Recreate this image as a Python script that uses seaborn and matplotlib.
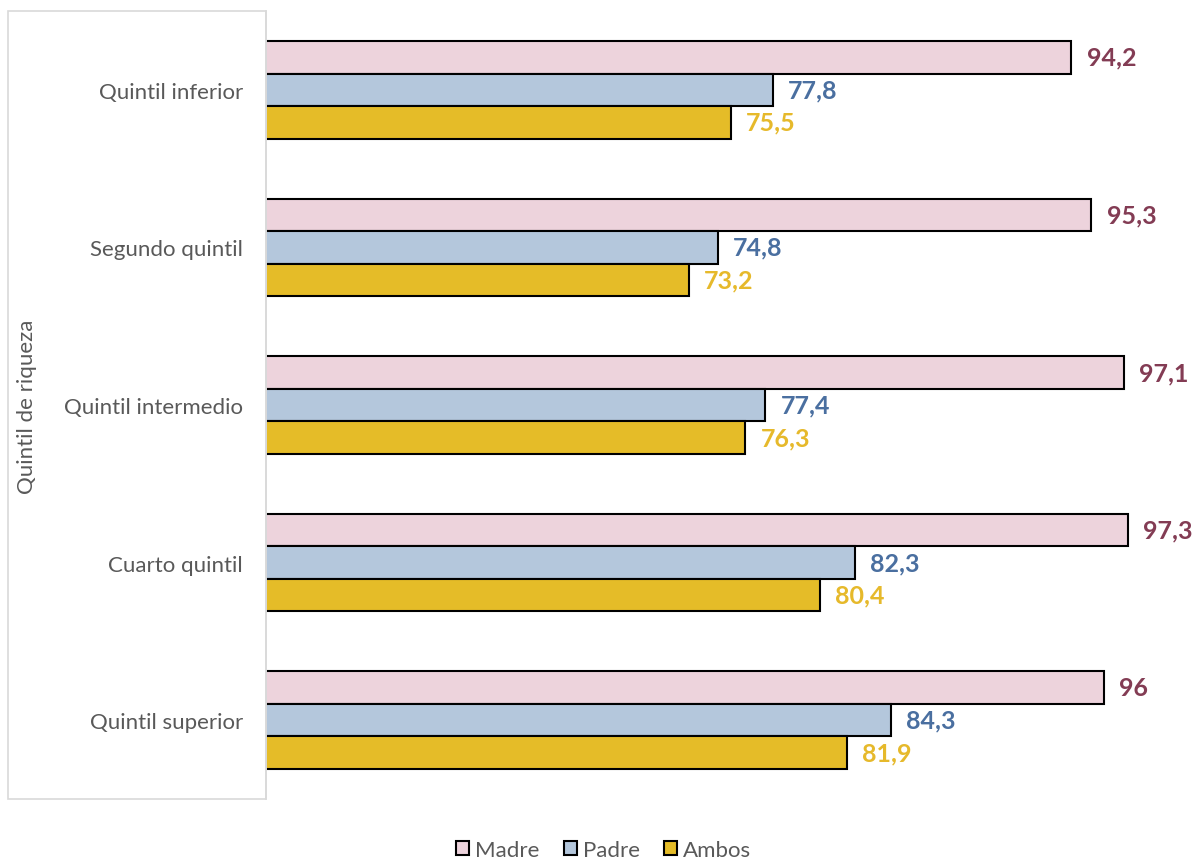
import pandas as pd
import matplotlib.pyplot as plt
import seaborn as sns
from matplotlib.patches import Rectangle

# Data
quintiles = ['Quintil inferior', 'Segundo quintil', 'Quintil intermedio', 'Cuarto quintil', 'Quintil superior']
madre = [94.2, 95.3, 97.1, 97.3, 96.0]
padre = [77.8, 74.8, 77.4, 82.3, 84.3]
ambos = [75.5, 73.2, 76.3, 80.4, 81.9]
series = ['Madre', 'Padre', 'Ambos']

bar_colors = ['#EDD3DC', '#B4C7DC', '#E5BC28']
label_colors = ['#833C54', '#4A6FA0', '#E6B92B']
gray = '#595959'

df = pd.DataFrame({'quintil': quintiles * 3,
                   'valor': madre + padre + ambos,
                   'grupo': [s for s in series for _ in quintiles]})

sns.set_style('white')
plt.rcParams['font.family'] = ['Lato', 'DejaVu Sans']

fig = plt.figure(figsize=(11.95, 8.62), dpi=100)
ax = fig.add_axes([266 / 1195, 62 / 862, 911 / 1195, 788 / 862])

sns.barplot(data=df, y='quintil', x='valor', hue='grupo', hue_order=series,
            order=quintiles, palette=bar_colors, orient='h', width=0.62,
            edgecolor='black', linewidth=1.5, saturation=1, ax=ax, legend=False)

ax.set_xlim(50, 100)
ax.set_ylim(4.5, -0.5)
ax.set_xlabel('')
ax.set_ylabel('')
ax.set_xticks([])
ax.tick_params(axis='y', length=0, pad=16.5, labelsize=16, labelcolor=gray)
for side in ['top', 'right', 'bottom']:
    ax.spines[side].set_visible(False)
ax.spines['left'].set_color('#d9d9d9')
ax.spines['left'].set_linewidth(1.2)

# value labels
for cont, col in zip(ax.containers, label_colors):
    ax.bar_label(cont, labels=[f'{v:g}'.replace('.', ',') for v in cont.datavalues],
                 padding=11, color=col, fontsize=18, fontweight='bold')

# frame around the category label area
fig.patches.append(Rectangle((8 / 1195, 62 / 862), 258 / 1195, 788 / 862,
                             transform=fig.transFigure, fill=False,
                             edgecolor='#d9d9d9', linewidth=1.2))

fig.text(27 / 1195, 1 - 407 / 862, 'Quintil de riqueza', rotation=90,
         ha='center', va='center', color=gray, fontsize=16)

handles = [Rectangle((0, 0), 1, 1, facecolor=c, edgecolor='black', linewidth=1.5)
           for c in bar_colors]
leg = fig.legend(handles, series, loc='lower center', bbox_to_anchor=(0.505, -0.022),
                 ncol=3, frameon=False, fontsize=16, handlelength=0.6,
                 handleheight=0.6, handletextpad=0.25, columnspacing=1.1)
for t in leg.get_texts():
    t.set_color(gray)

fig.savefig('out.png', dpi=100)
